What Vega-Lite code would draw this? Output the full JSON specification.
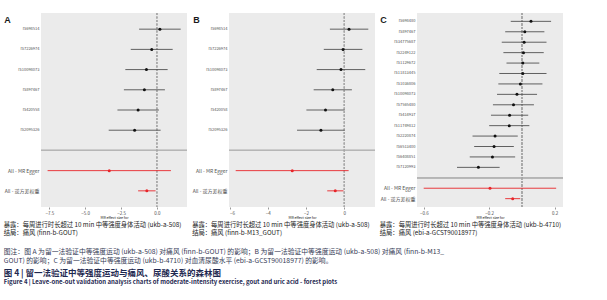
{
  "$schema": "https://vega.github.io/schema/vega-lite/v6.json",
  "padding": {"left": 3, "top": 12, "right": 5, "bottom": 4},
  "title": {
    "text": "图 4 | 留一法验证中等强度运动与痛风、尿酸关系的森林图",
    "subtitle": "Figure 4 | Leave-one-out validation analysis charts of moderate-intensity exercise, gout and uric acid - forest plots",
    "orient": "bottom", "anchor": "start", "frame": "bounds", "offset": 4,
    "font": "Noto Sans CJK SC", "fontSize": 8.5, "fontWeight": "bold", "color": "#1e2850",
    "subtitleFont": "Noto Sans CJK SC", "subtitleFontSize": 6, "subtitleFontWeight": "bold", "subtitleColor": "#1e2850", "subtitlePadding": 2
  },
  "vconcat": [
    {
      "title": {
        "text": ["图注：图 A 为留一法验证中等强度运动 (ukb-a-508) 对痛风 (finn-b-GOUT) 的影响；B 为留一法验证中等强度运动 (ukb-a-508) 对痛风 (finn-b-M13_", "GOUT) 的影响；C 为留一法验证中等强度运动 (ukb-b-4710) 对血清尿酸水平 (ebi-a-GCST90018977) 的影响。"],
        "orient": "bottom", "anchor": "start", "frame": "bounds", "offset": 13,
        "font": "Noto Sans CJK SC", "fontSize": 6.8, "fontWeight": "normal", "color": "#353a55", "lineHeight": 8.6
      },
      "bounds": "flush",
      "spacing": 42,
      "hconcat": [
        {
          "width": 146, "height": 194,
          "title": {"text": ["暴露：每周进行时长超过 10 min 中等强度身体活动 (ukb-a-508)", "结局：痛风 (finn-b-GOUT)"], "orient": "bottom", "anchor": "start", "frame": "bounds", "fontSize": 6.3, "fontWeight": "normal", "color": "#222222", "lineHeight": 8, "offset": 3},
          "data": {"values": [
            {"SNP": "rs698514", "b": 0.21, "lo": -1.24, "hi": 1.66, "grp": "snp"},
            {"SNP": "rs7226974", "b": -0.36, "lo": -1.82, "hi": 1.10, "grp": "snp"},
            {"SNP": "rs10098073", "b": -0.73, "lo": -2.20, "hi": 0.75, "grp": "snp"},
            {"SNP": "rs897467", "b": -0.87, "lo": -2.30, "hi": 0.56, "grp": "snp"},
            {"SNP": "rs420558", "b": -1.31, "lo": -2.75, "hi": 0.14, "grp": "snp"},
            {"SNP": "rs2095326", "b": -1.55, "lo": -3.36, "hi": 0.26, "grp": "snp"},
            {"SNP": "All - MR Egger", "b": -3.32, "lo": -7.62, "hi": 0.98, "grp": "all"},
            {"SNP": "All - 逆方差权重", "b": -0.70, "lo": -1.31, "hi": -0.09, "grp": "all"}
          ]},
          "resolve": {"scale": {"color": "independent"}},
          "layer": [
            {"mark": {"type": "rule", "stroke": "#b5b5b5", "strokeWidth": 0.8},
             "encoding": {"y": {"datum": "", "type": "nominal", "scale": {"domain": ["rs698514", "rs7226974", "rs10098073", "rs897467", "rs420558", "rs2095326", "", "All - MR Egger", "All - 逆方差权重"], "padding": 0.6},
               "axis": {"title": "A", "titleAngle": 0, "titleX": -34, "titleY": 6, "titleAlign": "center", "titleBaseline": "middle", "titleFontSize": 9, "titleFontWeight": "bold", "titleFont": "Liberation Sans", "titleColor": "#1a1a1a", "labelFontSize": {"condition": {"test": "indexof(datum.label, 'All') === 0", "value": 5}, "value": 4}, "labelColor": "#555555", "ticks": false, "labelPadding": 2, "domain": false, "gridColor": "#ffffff", "gridWidth": 0.6}}}},
            {"mark": {"type": "rule", "stroke": "#a8a8a8", "strokeDash": [2, 1.5], "strokeWidth": 0.5},
             "encoding": {"x": {"datum": 0, "type": "quantitative", "title": "MR effect size for", "scale": {"domain": [-8.08, 2.1], "nice": false, "zero": false},
               "axis": {"values": [-7.5, -6.25, -5, -3.75, -2.5, -1.25, 0, 1.25], "labelExpr": "abs(datum.value % 2.5) < 0.001 ? format(datum.value, '.1f') : ''", "tickOpacity": {"condition": {"test": "abs(datum.value % 2.5) < 0.001", "value": 1}, "value": 0}, "gridWidth": {"condition": {"test": "abs(datum.value % 2.5) < 0.001", "value": 0.7}, "value": 0.35}}}}},
            {"mark": {"type": "rule", "strokeWidth": 0.9},
             "encoding": {"y": {"field": "SNP", "type": "nominal"}, "x": {"field": "lo", "type": "quantitative", "title": "MR effect size for"}, "x2": {"field": "hi"},
               "color": {"field": "grp", "type": "nominal", "scale": {"domain": ["snp", "all"], "range": ["#505050", "#e8262a"]}, "legend": null}}},
            {"mark": {"type": "point", "filled": true, "size": 9, "opacity": 1},
             "encoding": {"y": {"field": "SNP", "type": "nominal"}, "x": {"field": "b", "type": "quantitative", "title": "MR effect size for"},
               "color": {"field": "grp", "type": "nominal", "scale": {"domain": ["snp", "all"], "range": ["#111111", "#e8262a"]}, "legend": null}}}
          ]
        },
        {
          "width": 146, "height": 194,
          "title": {"text": ["暴露：每周进行时长超过 10 min 中等强度身体活动 (ukb-a-508)", "结局：痛风 (finn-b-M13_GOUT)"], "orient": "bottom", "anchor": "start", "frame": "bounds", "fontSize": 6.3, "fontWeight": "normal", "color": "#222222", "lineHeight": 8, "offset": 3},
          "data": {"values": [
            {"SNP": "rs698514", "b": 0.25, "lo": -0.75, "hi": 1.26, "grp": "snp"},
            {"SNP": "rs7226974", "b": -0.06, "lo": -1.07, "hi": 0.95, "grp": "snp"},
            {"SNP": "rs10098073", "b": -0.17, "lo": -1.44, "hi": 1.10, "grp": "snp"},
            {"SNP": "rs897467", "b": -0.60, "lo": -1.60, "hi": 0.40, "grp": "snp"},
            {"SNP": "rs420058", "b": -0.98, "lo": -1.98, "hi": 0.02, "grp": "snp"},
            {"SNP": "rs2095326", "b": -1.22, "lo": -2.47, "hi": 0.02, "grp": "snp"},
            {"SNP": "All - MR Egger", "b": -2.72, "lo": -5.68, "hi": 0.23, "grp": "all"},
            {"SNP": "All - 逆方差权重", "b": -0.47, "lo": -0.89, "hi": -0.04, "grp": "all"}
          ]},
          "resolve": {"scale": {"color": "independent"}},
          "layer": [
            {"mark": {"type": "rule", "stroke": "#b5b5b5", "strokeWidth": 0.8},
             "encoding": {"y": {"datum": "", "type": "nominal", "scale": {"domain": ["rs698514", "rs7226974", "rs10098073", "rs897467", "rs420058", "rs2095326", "", "All - MR Egger", "All - 逆方差权重"], "padding": 0.6},
               "axis": {"title": "B", "titleAngle": 0, "titleX": -33, "titleY": 6, "titleAlign": "center", "titleBaseline": "middle", "titleFontSize": 9, "titleFontWeight": "bold", "titleFont": "Liberation Sans", "titleColor": "#1a1a1a", "labelFontSize": {"condition": {"test": "indexof(datum.label, 'All') === 0", "value": 5}, "value": 4}, "labelColor": "#555555", "ticks": false, "labelPadding": 2, "domain": false, "gridColor": "#ffffff", "gridWidth": 0.6}}}},
            {"mark": {"type": "rule", "stroke": "#a8a8a8", "strokeDash": [2, 1.5], "strokeWidth": 0.5},
             "encoding": {"x": {"datum": 0, "type": "quantitative", "title": "MR effect size for", "scale": {"domain": [-6.03, 1.61], "nice": false, "zero": false},
               "axis": {"values": [-6, -5, -4, -3, -2, -1, 0, 1], "labelExpr": "abs(datum.value % 2) < 0.001 ? format(datum.value, 'd') : ''", "tickOpacity": {"condition": {"test": "abs(datum.value % 2) < 0.001", "value": 1}, "value": 0}, "gridWidth": {"condition": {"test": "abs(datum.value % 2) < 0.001", "value": 0.7}, "value": 0.35}}}}},
            {"mark": {"type": "rule", "strokeWidth": 0.9},
             "encoding": {"y": {"field": "SNP", "type": "nominal"}, "x": {"field": "lo", "type": "quantitative", "title": "MR effect size for"}, "x2": {"field": "hi"},
               "color": {"field": "grp", "type": "nominal", "scale": {"domain": ["snp", "all"], "range": ["#505050", "#e8262a"]}, "legend": null}}},
            {"mark": {"type": "point", "filled": true, "size": 9, "opacity": 1},
             "encoding": {"y": {"field": "SNP", "type": "nominal"}, "x": {"field": "b", "type": "quantitative", "title": "MR effect size for"},
               "color": {"field": "grp", "type": "nominal", "scale": {"domain": ["snp", "all"], "range": ["#111111", "#e8262a"]}, "legend": null}}}
          ]
        },
        {
          "width": 146, "height": 194,
          "title": {"text": ["暴露：每周进行时长超过 10 min 中等强度身体活动 (ukb-b-4710)", "结局：痛风 (ebi-a-GCST90018977)"], "orient": "bottom", "anchor": "start", "frame": "bounds", "fontSize": 6.3, "fontWeight": "normal", "color": "#222222", "lineHeight": 8, "offset": 3},
          "data": {"values": [
            {"SNP": "rs698480", "b": 0.056, "lo": -0.068, "hi": 0.179, "grp": "snp"},
            {"SNP": "rs897467", "b": 0.018, "lo": -0.102, "hi": 0.138, "grp": "snp"},
            {"SNP": "rs34775687", "b": 0.014, "lo": -0.123, "hi": 0.151, "grp": "snp"},
            {"SNP": "rs2249122", "b": 0.010, "lo": -0.113, "hi": 0.134, "grp": "snp"},
            {"SNP": "rs1129672", "b": 0.006, "lo": -0.094, "hi": 0.107, "grp": "snp"},
            {"SNP": "rs11813445", "b": 0.006, "lo": -0.138, "hi": 0.151, "grp": "snp"},
            {"SNP": "rs1036806", "b": -0.009, "lo": -0.144, "hi": 0.126, "grp": "snp"},
            {"SNP": "rs10098073", "b": -0.030, "lo": -0.152, "hi": 0.093, "grp": "snp"},
            {"SNP": "rs7565480", "b": -0.051, "lo": -0.177, "hi": 0.074, "grp": "snp"},
            {"SNP": "rs414937", "b": -0.075, "lo": -0.189, "hi": 0.039, "grp": "snp"},
            {"SNP": "rs11749812", "b": -0.077, "lo": -0.200, "hi": 0.046, "grp": "snp"},
            {"SNP": "rs2220874", "b": -0.164, "lo": -0.302, "hi": -0.025, "grp": "snp"},
            {"SNP": "rs6513400", "b": -0.170, "lo": -0.292, "hi": -0.049, "grp": "snp"},
            {"SNP": "rs6408851", "b": -0.180, "lo": -0.319, "hi": -0.041, "grp": "snp"},
            {"SNP": "rs7120993", "b": -0.266, "lo": -0.397, "hi": -0.136, "grp": "snp"},
            {"SNP": "All - MR Egger", "b": -0.195, "lo": -0.601, "hi": 0.210, "grp": "all"},
            {"SNP": "All - 逆方差权重", "b": -0.056, "lo": -0.102, "hi": -0.010, "grp": "all"}
          ]},
          "resolve": {"scale": {"color": "independent"}},
          "layer": [
            {"mark": {"type": "rule", "stroke": "#b5b5b5", "strokeWidth": 0.8},
             "encoding": {"y": {"datum": "", "type": "nominal", "scale": {"domain": ["rs698480", "rs897467", "rs34775687", "rs2249122", "rs1129672", "rs11813445", "rs1036806", "rs10098073", "rs7565480", "rs414937", "rs11749812", "rs2220874", "rs6513400", "rs6408851", "rs7120993", "", "All - MR Egger", "All - 逆方差权重"], "padding": 0.6},
               "axis": {"title": "C", "titleAngle": 0, "titleX": -34, "titleY": 6, "titleAlign": "center", "titleBaseline": "middle", "titleFontSize": 9, "titleFontWeight": "bold", "titleFont": "Liberation Sans", "titleColor": "#1a1a1a", "labelFontSize": {"condition": {"test": "indexof(datum.label, 'All') === 0", "value": 5}, "value": 4}, "labelColor": "#555555", "ticks": false, "labelPadding": 2, "domain": false, "gridColor": "#ffffff", "gridWidth": 0.6}}}},
            {"mark": {"type": "rule", "stroke": "#a8a8a8", "strokeDash": [2, 1.5], "strokeWidth": 0.5},
             "encoding": {"x": {"datum": 0, "type": "quantitative", "title": "MR effect size for", "scale": {"domain": [-0.642, 0.252], "nice": false, "zero": false},
               "axis": {"values": [-0.6, -0.5, -0.4, -0.3, -0.2, -0.1, 0, 0.1, 0.2], "labelExpr": "round(datum.value * 10) % 2 === 0 ? format(datum.value, '.1f') : ''", "tickOpacity": {"condition": {"test": "round(datum.value * 10) % 2 === 0", "value": 1}, "value": 0}, "gridWidth": {"condition": {"test": "round(datum.value * 10) % 2 === 0", "value": 0.7}, "value": 0.35}}}}},
            {"mark": {"type": "rule", "strokeWidth": 0.9},
             "encoding": {"y": {"field": "SNP", "type": "nominal"}, "x": {"field": "lo", "type": "quantitative", "title": "MR effect size for"}, "x2": {"field": "hi"},
               "color": {"field": "grp", "type": "nominal", "scale": {"domain": ["snp", "all"], "range": ["#505050", "#e8262a"]}, "legend": null}}},
            {"mark": {"type": "point", "filled": true, "size": 9, "opacity": 1},
             "encoding": {"y": {"field": "SNP", "type": "nominal"}, "x": {"field": "b", "type": "quantitative", "title": "MR effect size for"},
               "color": {"field": "grp", "type": "nominal", "scale": {"domain": ["snp", "all"], "range": ["#111111", "#e8262a"]}, "legend": null}}}
          ]
        }
      ]
    }
  ],
  "config": {
    "font": "Noto Sans CJK SC",
    "background": "#ffffff",
    "view": {"fill": "#EBEBEB", "stroke": null},
    "axisX": {"domain": false, "gridColor": "#ffffff", "tickSize": 2, "tickColor": "#333333", "tickWidth": 0.5, "labelFontSize": 4.5, "labelColor": "#4d4d4d", "labelPadding": 1, "labelOverlap": false, "titleFontSize": 3.6, "titleFontWeight": "normal", "titleColor": "#222222", "titlePadding": 1},
    "title": {"subtitleFont": "Noto Sans CJK SC"}
  }
}
